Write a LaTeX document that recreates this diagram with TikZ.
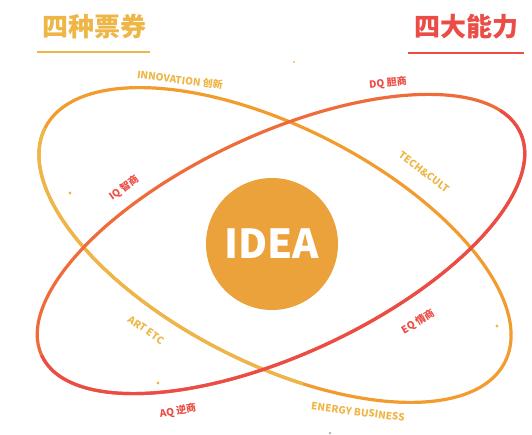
\documentclass[tikz,border=0pt]{standalone}
\usepackage{fontspec}
\newfontfamily\cjk{Noto Sans CJK SC}
\setmainfont{Noto Sans}
\begin{document}
\begin{tikzpicture}[x=1pt,y=-1pt,
  title/.style={font=\cjk\bfseries\fontsize{26}{26}\selectfont},
  lbl/.style={font=\cjk\bfseries\fontsize{10}{11}\selectfont, inner sep=0pt},
  dotmark/.style={fill=#1, draw=none},
]
\definecolor{gold}{HTML}{EEB646}
\definecolor{orng}{HTML}{F29C2E}
\definecolor{redd}{HTML}{EB4D46}
\definecolor{redo}{HTML}{F06B3A}
\definecolor{idea}{HTML}{EBA23A}
\useasboundingbox (0,0) rectangle (532,435);
\fill[white] (0,0) rectangle (532,435);
\coordinate (cy) at (275,245);
\coordinate (cr) at (281,244);
% yellow ellipse
\begin{scope}[rotate around={-27:(cy)}]
  \draw[line width=3.2pt, orng] (cy) ellipse [x radius=258, y radius=118];
  \draw[line width=3.2pt, gold] ([xshift=-258pt]cy) arc[start angle=180, end angle=70, x radius=258, y radius=118];
\end{scope}
% red ellipse
\begin{scope}[rotate around={25:(cr)}]
  \draw[line width=3.2pt, redo] (cr) ellipse [x radius=264, y radius=110];
  \draw[line width=3.2pt, redd] ([xshift=-264pt]cr) arc[start angle=180, end angle=-15, x radius=264, y radius=110];
\end{scope}
% center
\node[circle, fill=idea, minimum size=132pt, inner sep=0pt, text=white,
  font=\cjk\bfseries\fontsize{40}{40}\selectfont] (idea) at (272,244) {IDEA};
% titles
\node[title, text=gold] (t1) at (94,27) {四种票券};
\draw[gold, line width=1.2pt] (37,52) -- (150,52);
\node[title, text=redd] (t2) at (466,27) {四大能力};
\draw[redd, line width=1.2pt] (408,53) -- (524,53);
% labels
\node[lbl, text=gold, rotate=-7] (l1) at (180,80) {INNOVATION 创新};
\node[lbl, text=redd, rotate=6] (l2) at (388,83) {DQ 胆商};
\node[lbl, text=gold, rotate=-37] (l3) at (424,172) {TECH\&CULT};
\node[lbl, text=redd, rotate=36] (l4) at (124,188) {IQ 智商};
\node[lbl, text=gold, rotate=-35] (l5) at (146,330) {ART ETC};
\node[lbl, text=redd, rotate=31] (l6) at (418,322) {EQ 情商};
\node[lbl, text=redd, rotate=9] (l7) at (178,411) {AQ 逆商};
\node[lbl, text=gold, rotate=-7] (l8) at (358,412) {ENERGY BUSINESS};
% small decorative dots
\fill[dotmark=gold] (70,193) circle (1.6);
\fill[dotmark=gold] (158,383) circle (1.6);
\fill[dotmark=gold] (497,326) circle (1.6);
\fill[dotmark=gray!60] (330,433) circle (1.4);
\fill[dotmark=gold!70] (294,62) circle (1.4);
\end{tikzpicture}
\end{document}
